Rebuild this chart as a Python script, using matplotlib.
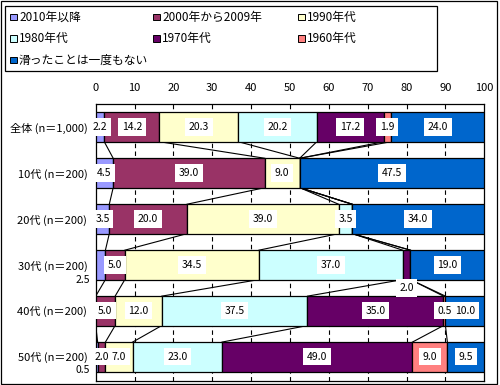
import numpy as np
import matplotlib
matplotlib.use('Agg')
import matplotlib.pyplot as plt
from matplotlib.patches import Rectangle

plt.rcParams['font.family'] = ['Noto Sans CJK JP', 'DejaVu Sans']

# data (percent)
categories = ['全体 (n＝1,000)', '10代 (n＝200)', '20代 (n＝200)',
              '30代 (n＝200)', '40代 (n＝200)', '50代 (n＝200)']
series_names = ['2010年以降', '2000年から2009年', '1990年代', '1980年代',
                '1970年代', '1960年代', '滑ったことは一度もない']
s2010 = [2.2, 4.5, 3.5, 2.5, 0.0, 0.5]
s2000 = [14.2, 39.0, 20.0, 5.0, 5.0, 2.0]
s1990 = [20.3, 9.0, 39.0, 34.5, 12.0, 7.0]
s1980 = [20.2, 0.0, 3.5, 37.0, 37.5, 23.0]
s1970 = [17.2, 0.0, 0.0, 2.0, 35.0, 49.0]
s1960 = [1.9, 0.0, 0.0, 0.0, 0.5, 9.0]
never = [24.0, 47.5, 34.0, 19.0, 10.0, 9.5]
x_ticks = [0, 10, 20, 30, 40, 50, 60, 70, 80, 90, 100]

colors = ['#9999FF', '#993366', '#FFFFCC', '#CCFFFF', '#660066', '#FF8080', '#0066CC']

W, H = 500, 385
fig = plt.figure(figsize=(W / 100, H / 100), dpi=100)

def px(x, y):
    return x / W, 1 - y / H

ax = fig.add_axes([95.7 / W, 1 - 380.7 / H, (484.3 - 95.7) / W, (380.7 - 104.3) / H])

values = np.array([s2010, s2000, s1990, s1980, s1970, s1960, never])
n_cat = len(categories)
ypos = np.arange(n_cat)
bar_h = 0.64

# stacked bars
left = np.zeros(n_cat)
for vals, col in zip(values, colors):
    ax.barh(ypos, vals, left=left, height=bar_h, color=col,
            edgecolor='black', linewidth=0.9, zorder=3)
    left += vals

# series lines between consecutive bars
cum = np.cumsum(values, axis=0)
for k in range(len(values) - 1):
    for i in range(n_cat - 1):
        ax.plot([cum[k, i], cum[k, i + 1]],
                [ypos[i] + bar_h / 2, ypos[i + 1] - bar_h / 2],
                color='black', linewidth=0.8, zorder=2)

# data labels
special = {(3, 0): (-1.5, 3.33, 'right'),
           (5, 0): (-1.5, 5.29, 'right'),
           (3, 4): (None, 3.5, 'center')}
starts = cum - values
for k in range(len(values)):
    for i in range(n_cat):
        v = values[k, i]
        if v <= 0:
            continue
        xc = starts[k, i] + v / 2
        yc = ypos[i]
        ha = 'center'
        box = dict(boxstyle='square,pad=0.35', fc='white', ec='none')
        if (i, k) in special:
            sx, sy, ha = special[(i, k)]
            if sx is not None:
                xc = sx
                box = None
            yc = sy
        ax.text(xc, yc, f'{v:.1f}', ha=ha, va='center', fontsize=7.5,
                bbox=box, zorder=6, clip_on=False)

ax.set_xlim(0, 100)
ax.set_ylim(5.52, -0.494)
ax.set_xticks(x_ticks)
ax.xaxis.tick_top()
ax.tick_params(axis='x', length=0, pad=8, labelsize=8)
ax.set_yticks(ypos)
ax.set_yticklabels(categories)
ax.tick_params(axis='y', length=0, pad=6, labelsize=8)
for x in x_ticks[1:-1]:
    ax.axvline(x, color='black', linewidth=0.8, linestyle=(0, (4, 3)), zorder=1)
for sp in ax.spines.values():
    sp.set_linewidth(0.9)

# legend box drawn in figure pixels
fig.patches.append(Rectangle(px(5, 71), 432 / W, 65 / H, transform=fig.transFigure,
                             fill=False, ec='black', lw=0.9))
col_x = [10, 153, 298]
row_y = [17, 38.5, 60]
for j, (name, col) in enumerate(zip(series_names, colors)):
    cx, ry = col_x[j % 3], row_y[j // 3]
    fig.patches.append(Rectangle(px(cx, ry + 3.3), 6.7 / W, 6.7 / H,
                                 transform=fig.transFigure, fc=col, ec='black', lw=0.7))
    fx, fy = px(cx + 9, ry)
    fig.text(fx, fy, name, ha='left', va='center', fontsize=8.5)

# outer frame
fig.patches.append(Rectangle(px(0.5, 384), 496 / W, 383.5 / H, transform=fig.transFigure,
                             fill=False, ec='black', lw=0.9))

fig.savefig('out.png', dpi=100)
